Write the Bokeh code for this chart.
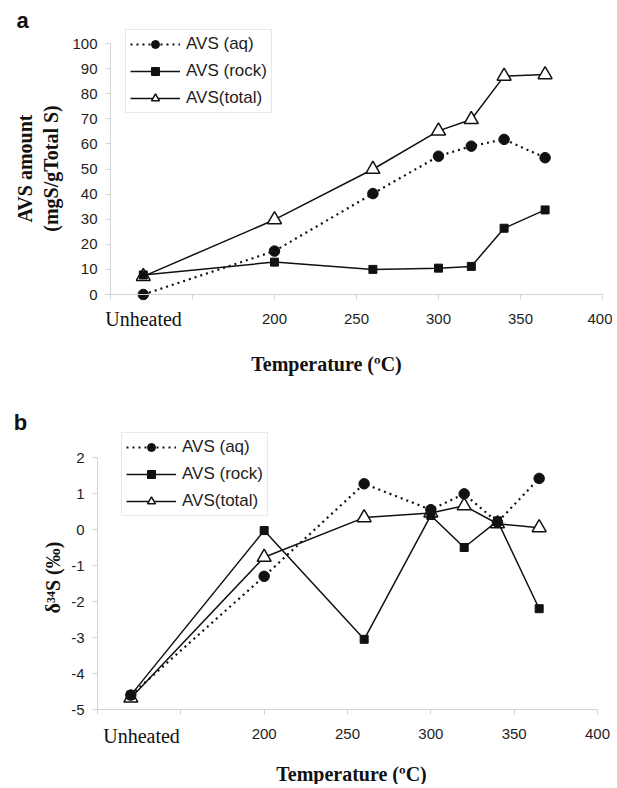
import math
from bokeh.plotting import figure
from bokeh.models import Range1d, FixedTicker, Label, Legend, LegendItem
from bokeh.layouts import column
from bokeh.embed import file_html
from bokeh.resources import INLINE

# ---------------- data ----------------
unheated_x = 120                     # position used for the "Unheated" sample
temperature = [unheated_x, 200, 260, 300, 320, 340, 365]
unheated_label = "Unheated"
x_ticks = [100, 150, 200, 250, 300, 350, 400]
x_tick_labels = ["", "", "200", "250", "300", "350", "400"]
x_title = "Temperature (ºC)"
series_labels = ["AVS (aq)", "AVS (rock)", "AVS(total)"]

# panel a: AVS amount (mgS/gTotal S)
a_aq = [0.0, 17.3, 40.2, 55.1, 59.1, 61.8, 54.5]
a_rock = [7.8, 12.9, 10.0, 10.5, 11.2, 26.4, 33.7]
a_total = [7.2, 29.8, 49.9, 65.2, 69.7, 87.0, 87.6]
a_y_ticks = [0, 10, 20, 30, 40, 50, 60, 70, 80, 90, 100]
a_y_tick_labels = ["0", "10", "20", "30", "40", "50", "60", "70", "80", "90", "100"]
a_y_title = ["AVS amount", "(mgS/gTotal S)"]

# panel b: delta34S (permil)
b_aq = [-4.6, -1.3, 1.27, 0.55, 0.99, 0.2, 1.42]
b_rock = [-4.6, -0.03, -3.05, 0.39, -0.5, 0.24, -2.2]
b_total = [-4.68, -0.77, 0.33, 0.46, 0.66, 0.16, 0.05]
b_y_ticks = [-5, -4, -3, -2, -1, 0, 1, 2]
b_y_tick_labels = ["-5", "-4", "-3", "-2", "-1", "0", "1", "2"]
b_y_title = ["δ³⁴S (‰)"]

SANS = "Liberation Sans"
SERIF = "Liberation Serif"
AXIS_GREY = "#d3d3d3"
INK = "#111111"
PAGE_X0 = 0
WIDTH = 612


def make_panel(aq, rock, total, yticks, ylabels, ytitle, top_page, height,
               xpix, ypix, xlim, ylim, legend_page, letter, letter_page,
               unheated_page, xtitle_page, ytitle_pages):
    # xpix: picture x of xlim[0], xlim[1]; ypix: picture y of ylim[0], ylim[1]
    sxs = (xpix[1] - xpix[0]) / (xlim[1] - xlim[0])
    x_start = xlim[0] - (xpix[0] - PAGE_X0) / sxs
    x_end = x_start + WIDTH / sxs
    sys_ = (ypix[0] - ypix[1]) / (ylim[1] - ylim[0])
    y_top = ylim[1] + (ypix[1] - top_page) / sys_
    y_bot = y_top - height / sys_

    p = figure(width=WIDTH, height=height,
               x_range=Range1d(x_start, x_end), y_range=Range1d(y_bot, y_top),
               output_backend="svg", toolbar_location=None, title=None,
               min_border=0, min_border_left=0, min_border_right=0,
               min_border_top=0, min_border_bottom=0,
               background_fill_color="white", border_fill_color="white")
    p.outline_line_color = None
    p.xgrid.grid_line_color = None
    p.ygrid.grid_line_color = None

    for ax in (p.xaxis[0], p.yaxis[0]):
        ax.axis_line_color = AXIS_GREY
        ax.axis_line_width = 1
        ax.major_tick_line_color = AXIS_GREY
        ax.major_tick_out = 5
        ax.major_tick_in = 0
        ax.minor_tick_line_color = None
        ax.major_label_text_font = SANS
        ax.major_label_text_font_size = "15px"
        ax.major_label_text_color = "#1e1e1e"
    p.xaxis.major_label_standoff = 14
    p.yaxis.major_label_standoff = 8

    p.xaxis.ticker = FixedTicker(ticks=x_ticks)
    p.xaxis.major_label_overrides = {t: l for t, l in zip(x_ticks, x_tick_labels)}
    p.xaxis.fixed_location = ylim[0]
    p.xaxis.bounds = xlim
    p.yaxis.ticker = FixedTicker(ticks=yticks)
    p.yaxis.major_label_overrides = {t: l for t, l in zip(yticks, ylabels)}
    p.yaxis.fixed_location = xlim[0]
    p.yaxis.bounds = ylim

    # series (drawn total, rock, aq so that aq sits on top)
    lt = p.line(temperature, total, line_color=INK, line_width=1.5)
    st = p.scatter(temperature, total, marker="triangle", size=14,
                   fill_color="white", line_color=INK, line_width=1.5)
    lr = p.line(temperature, rock, line_color=INK, line_width=1.5)
    sr = p.scatter(temperature, rock, marker="square", size=8,
                   fill_color=INK, line_color=INK)
    la = p.line(temperature, aq, line_color=INK, line_width=2.2, line_dash="2 4")
    sa = p.scatter(temperature, aq, marker="circle", size=10.5,
                   fill_color=INK, line_color=INK)

    def sx(px):
        return px - PAGE_X0

    def sy(py):
        return height - (py - top_page)

    legend = Legend(items=[
        LegendItem(label=series_labels[0], renderers=[la, sa]),
        LegendItem(label=series_labels[1], renderers=[lr, sr]),
        LegendItem(label=series_labels[2], renderers=[lt, st]),
    ], location=(sx(legend_page[0]), sy(legend_page[1])))
    legend.label_text_font = SANS
    legend.label_text_font_size = "17px"
    legend.label_text_color = "#1e1e1e"
    legend.glyph_width = 50
    legend.glyph_height = 20
    legend.label_height = 20
    legend.spacing = 7
    legend.padding = 4
    legend.margin = 0
    legend.label_standoff = 6
    legend.border_line_color = AXIS_GREY
    legend.background_fill_color = "white"
    legend.background_fill_alpha = 1.0
    p.add_layout(legend)

    def text(t, pos, font, size, bold=False, angle=0.0):
        p.add_layout(Label(x=sx(pos[0]), y=sy(pos[1]), x_units="screen",
                           y_units="screen", text=t, text_font=font,
                           text_font_style="bold" if bold else "normal",
                           text_font_size=size, text_color=INK, angle=angle,
                           text_align="center", text_baseline="middle"))

    text(unheated_label, unheated_page, SERIF, "20px")
    text(letter, letter_page, SANS, "22px", bold=True)
    text(x_title, xtitle_page, SERIF, "20px", bold=True)
    for t, pos in zip(ytitle, ytitle_pages):
        text(t, pos, SERIF, "20px", bold=True, angle=math.pi / 2)
    return p


pa = make_panel(a_aq, a_rock, a_total, a_y_ticks, a_y_tick_labels, a_y_title,
                top_page=0, height=380,
                xpix=(110, 602), ypix=(294, 43), xlim=(100, 400), ylim=(0, 100),
                legend_page=(125, 113), letter="a", letter_page=(22, 20),
                unheated_page=(143, 318), xtitle_page=(326, 363),
                ytitle_pages=[(24, 168), (50, 168)])

pb = make_panel(b_aq, b_rock, b_total, b_y_ticks, b_y_tick_labels, b_y_title,
                top_page=380, height=404,
                xpix=(97, 597), ypix=(709, 457), xlim=(100, 400), ylim=(-5, 2),
                legend_page=(121, 516), letter="b", letter_page=(20, 422),
                unheated_page=(141, 735), xtitle_page=(351, 773),
                ytitle_pages=[(52, 577)])

layout = column(pa, pb, spacing=0)
open("out.html", "w").write(file_html(layout, INLINE))
